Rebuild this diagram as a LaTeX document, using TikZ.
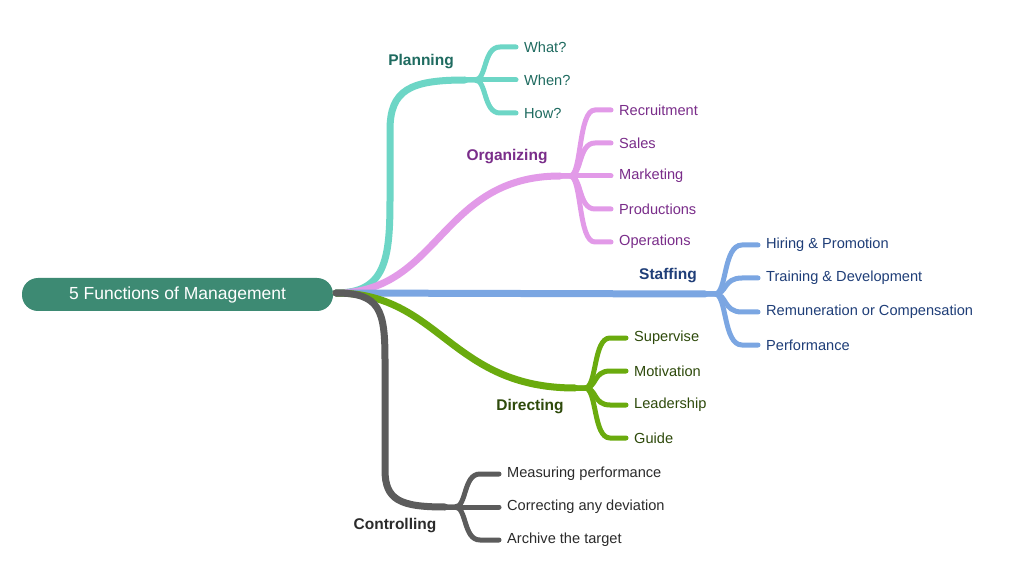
\documentclass[tikz,border=0pt]{standalone}
\usepackage{fontspec}
\setmainfont{Liberation Sans}
\definecolor{rootc}{HTML}{3D8A73}
\definecolor{planc}{HTML}{6DD6C6}
\definecolor{plant}{HTML}{1F6B60}
\definecolor{orgc}{HTML}{E29AE8}
\definecolor{orgt}{HTML}{7A2D8A}
\definecolor{stafc}{HTML}{7BA6E2}
\definecolor{staft}{HTML}{1F3E78}
\definecolor{dirc}{HTML}{6AAB0E}
\definecolor{dirt}{HTML}{2E4A0B}
\definecolor{conc}{HTML}{5C5C5C}
\definecolor{cont}{HTML}{2B2B2B}
\tikzset{
  branch/.style={line width=7pt, line cap=round},
  twig/.style={line width=5pt, line cap=round},
  leaf/.style={anchor=west, inner sep=0pt, font=\fontsize{14.6}{16}\selectfont},
  topic/.style={inner sep=0pt, font=\bfseries\fontsize{15.5}{17}\selectfont}
}
\begin{document}
\begin{tikzpicture}[x=1pt,y=-1pt]
\useasboundingbox[fill=white] (0,0) rectangle (1010,588);

\node[fill=rootc, text=white, rounded corners=16pt, minimum width=311pt, minimum height=33pt,
      font=\fontsize{17.5}{19}\selectfont] (root) at (177.5,294.5) {5 Functions of Management};
\coordinate (hub) at (336,293);

% Planning
\coordinate (planf) at (465,80);
\draw[branch, planc] (hub) .. controls (385,293) and (390,260) .. (390,200) -- (390,130)
  .. controls (390,90) and (410,80) .. (planf);
\node[topic, text=plant] (plan) at (421,62) {Planning};
\foreach \n/\y/\t in {pa/47/What?, pb/80/When?, pc/113/How?} {
  \node[leaf, text=plant] (\n) at (524,\y) {\t};
  \draw[twig, planc] (planf) -- ++(10,0) .. controls (487,80) and (483,\y) .. (500,\y) -- ([xshift=-8pt]\n.west);
}

% Organizing
\coordinate (orgf) at (560,176);
\draw[branch, orgc] (hub) .. controls (440,293) and (440,176) .. (orgf);
\node[topic, text=orgt] (org) at (507,157) {Organizing};
\foreach \n/\y/\t in {oa/110/Recruitment, ob/143/Sales, oc/176/Marketing, od/209/Productions, oe/242/Operations} {
  \node[leaf, text=orgt] (\n) at (619,\y) {\t};
  \draw[twig, orgc] (orgf) -- ++(10,0) .. controls (582,176) and (578,\y) .. (595,\y) -- ([xshift=-8pt]\n.west);
}

% Staffing
\coordinate (staff) at (705,294);
\draw[branch, stafc] (hub) -- (staff);
\node[topic, text=staft] (staf) at (668,276) {Staffing};
\foreach \n/\y/\t in {sa/245/Hiring \& Promotion, sb/278/Training \& Development, sc/312/Remuneration or Compensation, sd/345/Performance} {
  \node[leaf, text=staft] (\n) at (766,\y) {\t};
  \draw[twig, stafc] (staff) -- ++(10,0) .. controls (727,294) and (723,\y) .. (742,\y) -- ([xshift=-8pt]\n.west);
}

% Directing
\coordinate (dirf) at (575,388);
\draw[branch, dirc] (hub) .. controls (440,293) and (450,388) .. (dirf);
\node[topic, text=dirt] (dir) at (530,407) {Directing};
\foreach \n/\y/\t in {da/338/Supervise, db/371/Motivation, dc/405/Leadership, dd/438/Guide} {
  \node[leaf, text=dirt] (\n) at (634,\y) {\t};
  \draw[twig, dirc] (dirf) -- ++(10,0) .. controls (597,388) and (593,\y) .. (610,\y) -- ([xshift=-8pt]\n.west);
}

% Controlling
\coordinate (conf) at (445,507);
\draw[branch, conc] (hub) .. controls (380,293) and (385,310) .. (385,360) -- (385,470)
  .. controls (385,500) and (400,507) .. (conf);
\node[topic, text=cont] (con) at (395,526) {Controlling};
\foreach \n/\y/\t in {ca/474/Measuring performance, cb/507/Correcting any deviation, cc/540/Archive the target} {
  \node[leaf, text=cont] (\n) at (507,\y) {\t};
  \draw[twig, conc] (conf) -- ++(10,0) .. controls (467,507) and (463,\y) .. (480,\y) -- ([xshift=-8pt]\n.west);
}
\end{tikzpicture}
\end{document}
